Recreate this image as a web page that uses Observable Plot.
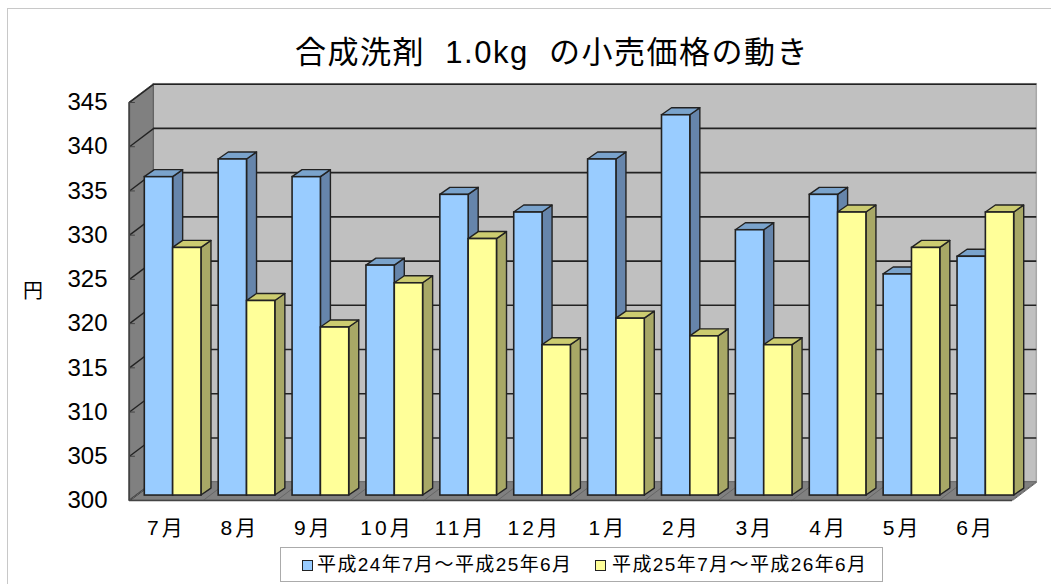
<!DOCTYPE html>
<html lang="ja"><head><meta charset="utf-8">
<script src="https://cdn.jsdelivr.net/npm/d3@7"></script>
<script src="https://cdn.jsdelivr.net/npm/@observablehq/plot@0.6"></script>
<style>
html,body{margin:0;padding:0;background:#fff;overflow:hidden}
body{width:1051px;height:584px;position:relative;font-family:"Liberation Sans","Noto Sans CJK JP",sans-serif;color:#000}
#chart,#frame,#title,#ylabel,#legend{position:absolute}
#chart{left:0;top:0}
#frame{left:7px;top:8px;right:-4px;bottom:-4px;border-left:1.5px solid #c8c8c8;border-top:1.5px solid #c8c8c8}
#title{left:252px;width:600px;top:34px;text-align:center;font-size:31px;letter-spacing:1.5px;line-height:38px;white-space:pre}
#ylabel{left:23px;top:279px;font-size:20px;line-height:24px}
#legend{left:280px;top:547px;width:603px;height:35px;border:1.5px solid #ababab;box-sizing:border-box;background:#fff}
.sw{position:absolute;top:12px;width:9px;height:9px;border:1.5px solid #222}
.lt{position:absolute;top:4px;font-size:19px;letter-spacing:1.4px;line-height:26px;white-space:nowrap}
</style></head><body>
<div id="frame"></div>
<div id="chart"></div>
<div id="title"></div>
<div id="ylabel"></div>
<div id="legend"></div>
<script>
const months = ["7月","8月","9月","10月","11月","12月","1月","2月","3月","4月","5月","6月"];
const series1 = [336,338,336,326,334,332,338,343,330,334,325,327];
const series2 = [328,322,319,324,329,317,320,318,317,332,328,332];
const seriesNames = ["平成24年7月～平成25年6月","平成25年7月～平成26年6月"];
const yTicks = [300,305,310,315,320,325,330,335,340,345];
const titleText = "合成洗剤  1.0kg  の小売価格の動き";
const unitText = "円";

// Oblique-projection depth, expressed in data units (x: categories, y: yen)
const wallDx = 0.33, wallDy = 2.07;
const barDx = 0.136, barDy = 0.79;
const barLift = 0.56, barLeft = 0.208, barWidth = 0.385, barPitch = 1.0041;
const yMin = 300, yMax = 345, n = months.length;

const rows = [];
months.forEach((m, i) => {
  const start = i * barPitch + barLeft;
  rows.push({i, m, s: 0, v: series1[i], x0: start, x1: start + barWidth});
  rows.push({i, m, s: 1, v: series2[i], x0: start + barWidth, x1: start + 2 * barWidth});
});
const colours = [
  {front: "#99ccff", side: "#6685ab", top: "#7aa3cc"},
  {front: "#ffff99", side: "#a8a866", top: "#cccc70"}
];
const edge = "#222";

function barMarks(s) {
  const d = rows.filter(r => r.s === s);
  const c = colours[s];
  const side = d.flatMap(r => [
    {id: r.i, x: r.x1, lo: yMin + barLift, hi: r.v + barLift},
    {id: r.i, x: r.x1 + barDx, lo: yMin + barLift + barDy, hi: r.v + barLift + barDy}
  ]);
  const top = d.flatMap(r => [
    {id: r.i, y: r.v + barLift, a: r.x0, b: r.x1},
    {id: r.i, y: r.v + barLift + barDy, a: r.x0 + barDx, b: r.x1 + barDx}
  ]);
  return [
    Plot.area(side, {x1: "x", x2: "x", y1: "lo", y2: "hi", z: "id", fill: c.side, stroke: edge, strokeWidth: 1.4}),
    Plot.area(top, {x1: "a", x2: "b", y1: "y", y2: "y", z: "id", fill: c.top, stroke: edge, strokeWidth: 1.4}),
    Plot.rect(d, {x1: "x0", x2: "x1", y1: yMin + barLift, y2: r => r.v + barLift, fill: c.front, stroke: edge, strokeWidth: 1.6})
  ];
}

const leftWall = [
  {x: 0, lo: yMin, hi: yMax},
  {x: wallDx, lo: yMin + wallDy, hi: yMax + wallDy}
];
const floor = [
  {y: yMin, a: 0, b: n},
  {y: yMin + wallDy, a: wallDx, b: n + wallDx}
];
const boundaries = d3.range(0, n + 1);

const plot = Plot.plot({
  width: 1051, height: 584,
  marginLeft: 129, marginRight: 39, marginTop: 102, marginBottom: 84,
  style: {background: "transparent", overflow: "visible"},
  x: {domain: [0, n], range: [129, 1012], axis: null},
  y: {domain: [yMin, yMax], range: [500, 102], axis: null},
  marks: [
    Plot.rect([0], {x1: wallDx, x2: n + wallDx, y1: yMin + wallDy, y2: yMax + wallDy, fill: "#c0c0c0", stroke: "#a8a8a8", strokeWidth: 1.5}),
    Plot.area(leftWall, {x1: "x", x2: "x", y1: "lo", y2: "hi", fill: "#808080", stroke: "#555", strokeWidth: 1}),
    Plot.area(floor, {x1: "a", x2: "b", y1: "y", y2: "y", fill: "#808080", stroke: "#666", strokeWidth: 1}),
    Plot.ruleY(yTicks.filter(t => t > yMin), {y: t => t + wallDy, x1: wallDx, x2: n + wallDx, stroke: "#222", strokeWidth: 1.6}),
    Plot.link(yTicks, {x1: 0, y1: t => t, x2: wallDx, y2: t => t + wallDy, stroke: "#222", strokeWidth: 1.4}),
    Plot.ruleY(yTicks, {y: t => t, x1: 0, x2: 0.08, stroke: "#444", strokeWidth: 1}),
    Plot.link(boundaries, {x1: b => b, y1: yMin, x2: b => b + wallDx, y2: yMin + wallDy, stroke: "#666", strokeWidth: 1}),
    ...barMarks(0),
    ...barMarks(1),
    Plot.ruleY([yMin], {x1: 0, x2: n, stroke: "#444", strokeWidth: 1.6}),
    Plot.ruleX([0], {y1: yMin, y2: yMax, stroke: "#444", strokeWidth: 1.2}),
    Plot.axisY({ticks: yTicks, tickSize: 0, tickPadding: 22, fontSize: 24, label: null, fill: "#000", tickFormat: d3.format("d")}),
    Plot.axisX({ticks: d3.range(n).map(i => i + 0.5), tickSize: 0, tickPadding: 20, fontSize: 21, label: null, fill: "#000",
      tickFormat: t => months[Math.floor(t)], className: "month-axis"})
  ]
});
document.getElementById("chart").append(plot);
plot.querySelectorAll("text").forEach(t => t.style.fontFamily = '"Liberation Sans","Noto Sans CJK JP",sans-serif');
plot.querySelectorAll(".month-axis text").forEach(t => t.style.letterSpacing = "3px");

document.getElementById("title").textContent = titleText;
document.getElementById("ylabel").textContent = unitText;
const legend = document.getElementById("legend");
[[21, 36], [314, 331]].forEach(([sx, tx], k) => {
  const s = document.createElement("div");
  s.className = "sw"; s.style.left = sx + "px"; s.style.background = colours[k].front;
  const t = document.createElement("div");
  t.className = "lt"; t.style.left = tx + "px"; t.textContent = seriesNames[k];
  legend.append(s, t);
});
</script>
</body></html>
